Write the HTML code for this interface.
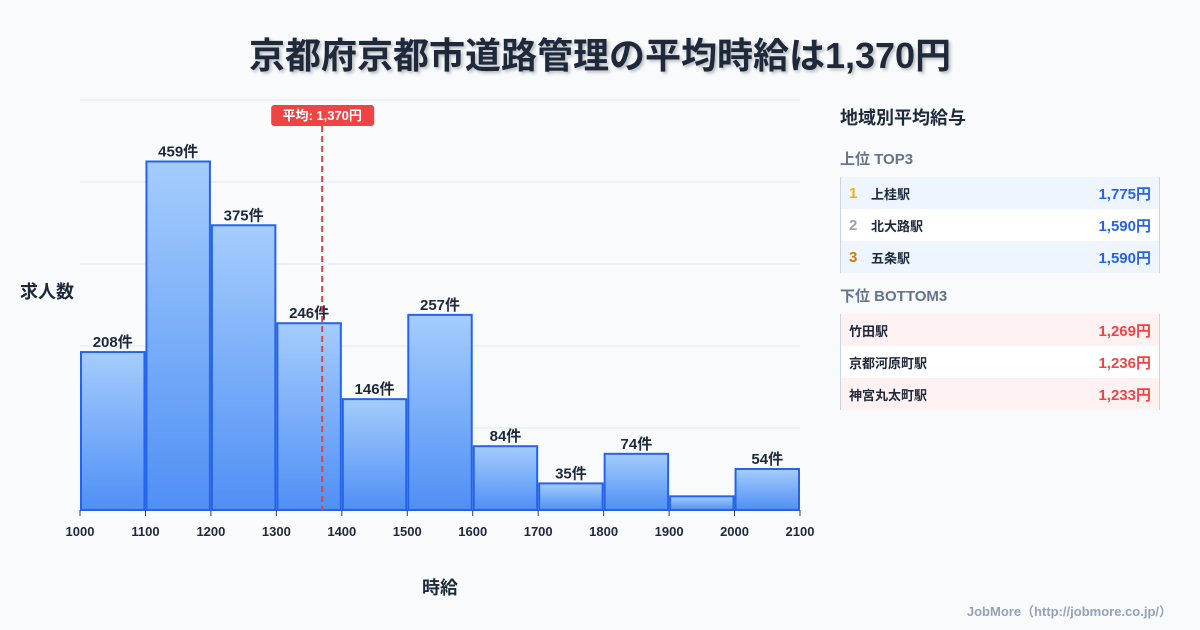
<!DOCTYPE html>
<html><head><meta charset="utf-8"><style>
body{margin:0;width:1200px;height:630px;background:#f8fafc;font-family:"Liberation Sans","Noto Sans CJK JP",sans-serif;overflow:hidden;position:relative}
.t{position:absolute;left:0;width:1200px;top:27px;text-align:center;font-size:36px;font-weight:bold;color:#1e293b;text-shadow:2px 2px 3px rgba(0,0,0,.25)}
.panel{position:absolute;left:840px;top:100px;width:320px}
.ph{font-size:18px;font-weight:bold;color:#1e293b;margin:4px 0 18px}
.sh{font-size:15px;font-weight:bold;color:#64748b;margin-bottom:8px}
.tbl{border-left:1px solid #cbd5e1;border-right:1px solid #cbd5e1;margin-bottom:12px}
.r{height:32px;display:flex;align-items:center;font-size:13px;font-weight:bold;color:#1e293b;padding:0 8px}
.r .n{width:22px;font-size:15px}
.r .v{margin-left:auto;font-size:15px}
</style></head><body>
<div class="t">京都府京都市道路管理の平均時給は1,370円</div>
<svg id="c" width="1200" height="630" style="position:absolute;left:0;top:0">
<defs><linearGradient id="g" x1="0" y1="0" x2="0" y2="1"><stop offset="0" stop-color="#a5cdfd"/><stop offset="1" stop-color="#4f8ff5"/></linearGradient></defs>
<g id="grid"></g><g id="bars"></g><g id="ax"></g>
<text x="20" y="298" font-size="18" font-weight="bold" fill="#1e293b">求人数</text>
<text x="440" y="594" font-size="18" font-weight="bold" fill="#1e293b" text-anchor="middle">時給</text>
<text x="1172" y="616" font-size="13" font-weight="bold" fill="#94a3b8" text-anchor="end">JobMore（http://jobmore.co.jp/）</text>
</svg>
<div class="panel">
<div class="ph">地域別平均給与</div>
<div class="sh">上位 TOP3</div>
<div class="tbl">
<div class="r" style="background:#eef5ff"><span class="n" style="color:#eab308">1</span>上桂駅<span class="v" style="color:#2563eb">1,775円</span></div>
<div class="r" style="background:#fff"><span class="n" style="color:#94a3b8">2</span>北大路駅<span class="v" style="color:#2563eb">1,590円</span></div>
<div class="r" style="background:#eef5ff"><span class="n" style="color:#d97706">3</span>五条駅<span class="v" style="color:#2563eb">1,590円</span></div>
</div>
<div class="sh">下位 BOTTOM3</div>
<div class="tbl">
<div class="r" style="background:#fef1f1">竹田駅<span class="v" style="color:#ef4444">1,269円</span></div>
<div class="r" style="background:#fff">京都河原町駅<span class="v" style="color:#ef4444">1,236円</span></div>
<div class="r" style="background:#fef1f1">神宮丸太町駅<span class="v" style="color:#ef4444">1,233円</span></div>
</div></div>
<script>
const binStarts=[1000,1100,1200,1300,1400,1500,1600,1700,1800,1900,2000];
const counts=[208,459,375,246,146,257,84,35,74,18,54];
const showLabel=[true,true,true,true,true,true,true,true,true,false,true];
const xTicks=[1000,1100,1200,1300,1400,1500,1600,1700,1800,1900,2000,2100];
const yGrid=[0,108,216,324,432,540];
const avg=1370;
const NS="http://www.w3.org/2000/svg";
const X=v=>80+(v-1000)*720/1100, Y=v=>510-v*410/540;
function mk(t,a,p){const e=document.createElementNS(NS,t);for(const k in a)e.setAttribute(k,a[k]);document.getElementById(p).appendChild(e);return e;}
yGrid.forEach(v=>{const l=mk('line',{x1:80,x2:800,y1:Y(v),y2:Y(v),stroke:'#e2e8f0'},'grid');

});
binStarts.forEach((b,i)=>{const x0=X(b)+1,x1=X(b+100)-1,y=Y(counts[i]);
const r=mk('rect',{x:x0,y:y,width:x1-x0,height:510-y,fill:'url(#g)',stroke:'#2563eb','stroke-width':2},'bars');


if(showLabel[i]){const t=mk('text',{x:(x0+x1)/2,y:y-5,'text-anchor':'middle','font-size':15,'font-weight':'bold',fill:'#1e293b'},'bars');t.textContent=counts[i]+'件';

}});
xTicks.forEach(v=>{mk('line',{x1:X(v),x2:X(v),y1:510,y2:516,stroke:'#334155'},'ax');
const t=mk('text',{x:X(v),y:536,'text-anchor':'middle','font-size':13,'font-weight':'bold',fill:'#1e293b'},'ax');t.textContent=v;

});
const ax=X(avg);
const al=mk('line',{x1:ax,x2:ax,y1:126,y2:510,stroke:'#dc4444','stroke-width':2,'stroke-dasharray':'6,4'},'ax');


const ab=mk('rect',{x:ax-51,y:105,width:103,height:21,rx:3,fill:'#ef4444'},'ax');


const at=mk('text',{x:ax,y:120,'text-anchor':'middle','font-size':13,'font-weight':'bold',fill:'#fff'},'ax');at.textContent='平均: 1,370円';


</script>
</body></html>
